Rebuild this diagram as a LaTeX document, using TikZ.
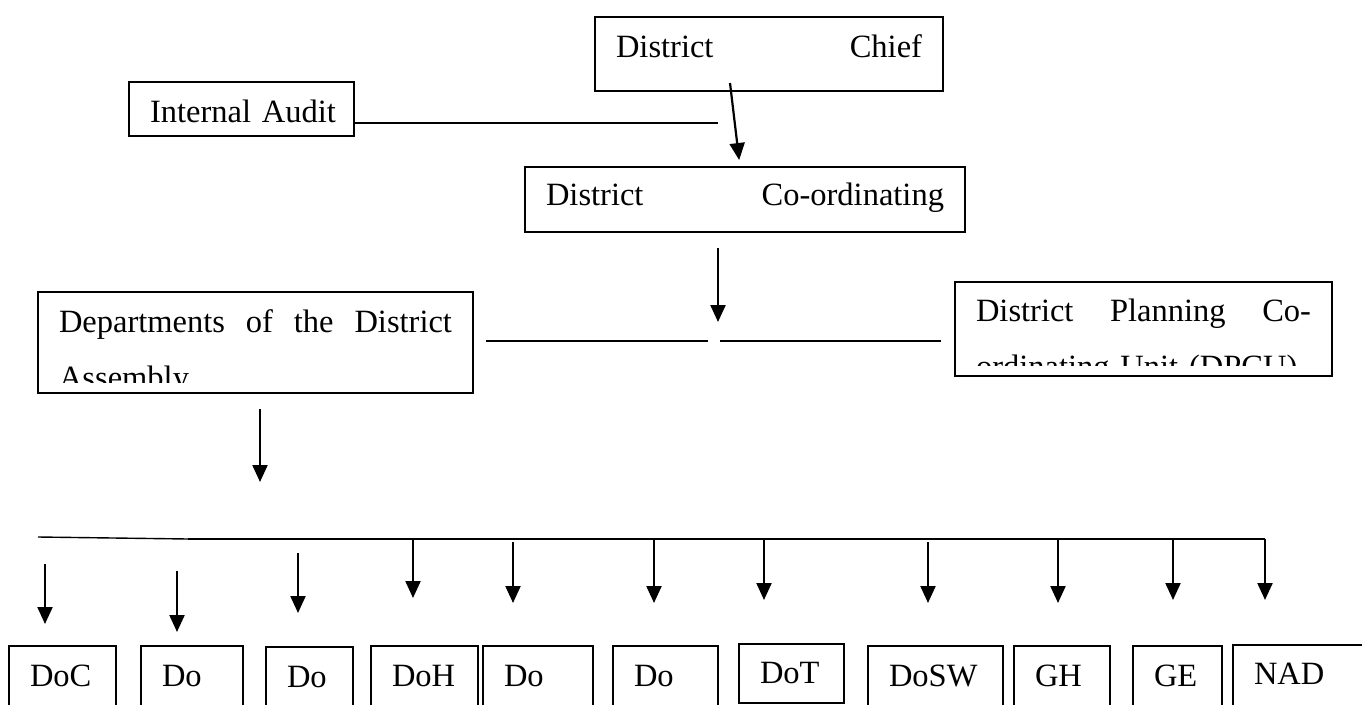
\documentclass[tikz,border=0pt]{standalone}
\usepackage{fontspec}
\setmainfont{Liberation Serif}
\usetikzlibrary{arrows.meta}
\newcommand{\orgfont}{\fontsize{32.5}{56}\selectfont}

\begin{document}
\begin{tikzpicture}[x=1pt, y=-1pt, >={Triangle[length=17pt, width=15pt]},
    unit/.style={draw, line width=1.5pt, anchor=north west, outer sep=0pt,
      inner xsep=21pt, inner ysep=0pt, text height=40pt, text depth=30pt,
      align=left, font=\orgfont},
    link/.style={line width=2pt},
    flow/.style={line width=2.2pt, ->}]
  \path[use as bounding box, clip] (0,0) rectangle (1362,704);

  % top of the chart
  \node[unit, text width=306pt, text depth=34pt] (chief) at (595,17) {District\hfill Chief};
  \node[unit, text width=183pt, text depth=14pt] (audit) at (129,82) {\mbox{Internal Audit}};
  \node[unit, text width=398pt, text height=38pt, text depth=27pt] (coord) at (525,167) {District\hfill Co-ordinating};

  % boxes whose second line is cut off
  \begin{scope}
    \clip (38,292) rectangle (473,382);
    \node[unit, draw=none, text width=393pt, text depth=61pt] (dept) at (38,292)
      {Departments\hfill of\hfill the\hfill District\\Assembly};
  \end{scope}
  \draw[line width=1.5pt] (dept.north west) rectangle (dept.south east);
  \begin{scope}
    \clip (955,282) rectangle (1332,365);
    \node[unit, draw=none, text width=335pt, text height=39pt, text depth=55pt] (dpcu) at (955,282)
      {District\hfill Planning\hfill Co-\\ordinating Unit (DPCU)};
  \end{scope}
  \draw[line width=1.5pt] (dpcu.north west) rectangle (dpcu.south east);

  % the departments
  \node[unit, text width=65pt] (doc) at (9,646) {DoC};
  \node[unit, text width=60pt] (do1) at (141,646) {Do};
  \node[unit, text width=45pt] (do2) at (266,647) {Do};
  \node[unit, text width=65pt] (doh) at (371,646) {DoH};
  \node[unit, text width=68pt] (do3) at (483,646) {Do};
  \node[unit, text width=63pt] (do4) at (613,646) {Do};
  \node[unit, text width=63pt, text height=39pt, text depth=20pt] (dot) at (739,644) {DoT};
  \node[unit, text width=93pt] (dosw) at (868,646) {DoSW};
  \node[unit, text width=54pt] (gh) at (1014,646) {GH};
  \node[unit, text width=47pt] (ge) at (1133,646) {GE};
  \node[unit, text width=98pt, text height=39pt] (nad) at (1233,645) {NAD};

  % links
  \coordinate (auditend) at (718,123);
  \draw[link] (audit.east |- auditend) -- (auditend);
  \coordinate (chiefout) at (730,83);
  \draw[flow, shorten >=7pt] (chiefout) -- (740,0 |- coord.north);
  \coordinate (split) at (718,341);
  \draw[flow, shorten <=16pt, shorten >=19pt] (coord.south -| split) -- (split);
  \draw[link, shorten <=13pt, shorten >=10pt] (dept.east |- split) -- (split);
  \draw[link, shorten <=2pt, shorten >=14pt] (split) -- (dpcu.west |- split);
  \coordinate (deptdrop) at (260,482);
  \draw[flow, shorten <=16pt] (dept.south -| deptdrop) -- (deptdrop);

  \coordinate (busL) at (38,537);
  \coordinate (busA) at (188,539);
  \coordinate (busR) at (1265,539);
  \draw[line width=1.4pt] (busL) -- (busA);
  \draw[link] (busA) -- (busR);

  \draw[flow, shorten >=22pt] (45,564) -- (45,0 |- doc.north);
  \draw[flow, shorten >=14pt] (177,571) -- (177,0 |- do1.north);
  \draw[flow, shorten >=34pt] (298,553) -- (298,0 |- do2.north);
  \draw[flow, shorten >=48pt] (413,0 |- busA) -- (413,0 |- doh.north);
  \draw[flow, shorten >=43pt] (513,542) -- (513,0 |- do3.north);
  \draw[flow, shorten >=43pt] (654,0 |- busA) -- (654,0 |- do4.north);
  \draw[flow, shorten >=44pt] (764,0 |- busA) -- (764,0 |- dot.north);
  \draw[flow, shorten >=43pt] (928,542) -- (928,0 |- dosw.north);
  \draw[flow, shorten >=43pt] (1058,0 |- busA) -- (1058,0 |- gh.north);
  \draw[flow, shorten >=46pt] (1173,0 |- busA) -- (1173,0 |- ge.north);
  \draw[flow, shorten >=45pt] (busR) -- (busR |- nad.north);
\end{tikzpicture}
\end{document}
